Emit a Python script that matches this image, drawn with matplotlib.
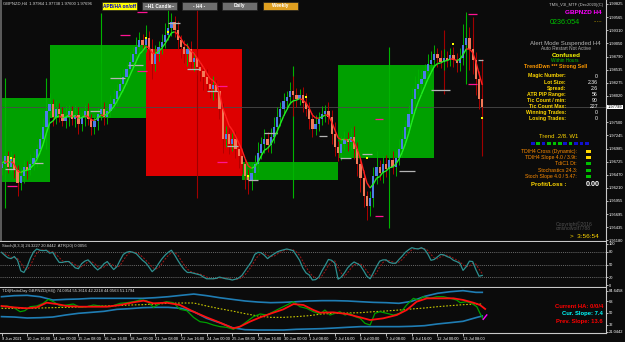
import numpy as np
import pandas as pd
import matplotlib
matplotlib.use("Agg")
import matplotlib.pyplot as plt
import matplotlib.transforms as mtransforms
from matplotlib.patches import Rectangle
from matplotlib.collections import LineCollection

plt.rcParams['font.family'] = ['Liberation Sans', 'DejaVu Sans']

# ---------------- data (GBPNZD H4) ----------------
closes = [
    1.9669, 1.9683, 1.9663, 1.9679, 1.9656, 1.9630, 1.9644, 1.9663, 1.9656, 1.9669,
    1.9679, 1.9698, 1.9718, 1.9741, 1.9772, 1.9786, 1.9761, 1.9776, 1.9766, 1.9753,
    1.9761, 1.9772, 1.9757, 1.9765, 1.9747, 1.9761, 1.9772, 1.9757, 1.9741, 1.9753,
    1.9766, 1.9776, 1.9761, 1.9772, 1.9786, 1.9796, 1.9811, 1.9825, 1.9838, 1.9854,
    1.9869, 1.9883, 1.9897, 1.9912, 1.9902, 1.9916, 1.9893, 1.9864, 1.9883, 1.9897,
    1.9908, 1.9922, 1.9935, 1.9947, 1.9932, 1.9912, 1.9897, 1.9883, 1.9893, 1.9869,
    1.9877, 1.9858, 1.9850, 1.9838, 1.9825, 1.9815, 1.9823, 1.9811, 1.9776, 1.9718,
    1.9727, 1.9708, 1.9718, 1.9698, 1.9683, 1.9669, 1.9644, 1.9636, 1.9650, 1.9669,
    1.9689, 1.9708, 1.9718, 1.9706, 1.9722, 1.9741, 1.9761, 1.9776, 1.9792, 1.9799,
    1.9811, 1.9803, 1.9796, 1.9803, 1.9788, 1.9776, 1.9757, 1.9737, 1.9747, 1.9757,
    1.9766, 1.9772, 1.9761, 1.9727, 1.9702, 1.9689, 1.9708, 1.9718, 1.9712, 1.9722,
    1.9698, 1.9669, 1.9640, 1.9605, 1.9586, 1.9601, 1.9644, 1.9663, 1.9650, 1.9669,
    1.9659, 1.9675, 1.9663, 1.9679, 1.9698, 1.9718, 1.9741, 1.9766, 1.9796, 1.9815,
    1.9825, 1.9834, 1.9850, 1.9864, 1.9873, 1.9883, 1.9877, 1.9869, 1.9877, 1.9873,
    1.9881, 1.9873, 1.9866, 1.9877, 1.9902, 1.9916, 1.9893, 1.9873, 1.9834, 1.9796,
    1.97799,
]
first_open = 1.9660
# wick lengths in pips above / below the body
wick_up = [
    12, 60, 10, 14, 8, 10, 16, 12, 10, 18,
    14, 10, 12, 18, 60, 22, 10, 16, 12, 14,
    20, 12, 10, 18, 14, 10, 12, 16, 10, 14,
    12, 90, 14, 10, 18, 20, 14, 22, 16, 12,
    18, 14, 20, 16, 12, 24, 14, 20, 18, 12,
    16, 22, 40, 18, 12, 16, 10, 14, 12, 16,
    10, 14, 12, 10, 16, 12, 18, 10, 14, 12,
    16, 12, 10, 14, 12, 16, 10, 14, 20, 16,
    22, 14, 18, 12, 16, 20, 18, 14, 16, 12,
    18, 30, 14, 12, 16, 20, 14, 12, 18, 14,
    16, 12, 18, 14, 24, 12, 16, 14, 12, 16,
    20, 14, 12, 16, 10, 14, 18, 30, 12, 14,
    16, 12, 18, 14, 20, 16, 14, 18, 22, 26,
    30, 18, 14, 20, 16, 18, 12, 14, 16, 12,
    14, 16, 12, 18, 40, 50, 20, 30, 14, 16,
    10,
]
wick_dn = [
    14, 50, 12, 10, 16, 24, 12, 14, 18, 10,
    12, 16, 10, 14, 20, 12, 18, 14, 16, 10,
    14, 18, 12, 16, 20, 14, 18, 12, 16, 14,
    18, 12, 16, 14, 12, 10, 14, 12, 16, 14,
    12, 16, 14, 18, 12, 14, 20, 30, 14, 12,
    14, 12, 10, 16, 14, 18, 20, 16, 22, 14,
    18, 16, 20, 24, 16, 18, 22, 14, 20, 28,
    16, 20, 14, 18, 22, 20, 24, 26, 18, 14,
    16, 12, 18, 14, 16, 12, 14, 18, 12, 16,
    14, 40, 16, 12, 18, 14, 20, 16, 12, 14,
    12, 16, 14, 20, 18, 16, 14, 12, 18, 16,
    20, 24, 26, 22, 28, 20, 18, 16, 14, 20,
    16, 40, 14, 18, 12, 16, 14, 12, 16, 14,
    12, 18, 14, 16, 12, 14, 18, 12, 16, 14,
    12, 14, 18, 16, 14, 30, 40, 24, 30, 20,
    14,
]
current_price = 1.97799

# weekly boxes
box_from = [-0.2, 15, 45, 75, 105]
box_to = [15, 45, 75, 105, 135]
box_high = [1.97974, 1.99024, 1.98946, 1.96711, 1.98616]
box_low = [1.96322, 1.97586, 1.96439, 1.96361, 1.96808]
box_bull = [True, True, False, True, True]

# long higher-timeframe wicks
spike_bar = [1, 14, 31, 61, 91, 121, 138, 145, 147, 150]
spike_high = [1.98363, 1.98363, 1.99646, 1.99841, 1.98597, 1.98985, 1.99316, 1.99607, 1.99569, 1.98733]
spike_low = [1.95817, 1.96983, 1.97858, 1.96019, 1.96019, 1.95428, 1.98052, 1.98247, 1.98441, 1.96847]
spike_bull = [True, True, True, False, True, True, False, True, False, False]

# short level markers
level_from = [1.7, 37, 42.3, 42.3, 67.2, 67.2, 116.5, 116.5, 145.6, 145.6,
              1, 10, 27.6, 34, 39.5, 52, 57.8, 64, 70.4, 76.9, 82, 99, 105.6, 112.5, 124, 134, 148.7]
level_to = [4.8, 40, 45.4, 45.4, 70.4, 70.4, 119, 119, 148.4, 148.4,
            4.2, 13, 30.8, 38.5, 44, 55.7, 62, 67.5, 73.8, 80, 86, 101.5, 109, 115.6, 129, 140, 150.2]
level_price = [1.96244, 1.99219, 1.99666, 1.98499, 1.98208, 1.96711, 1.97566, 1.95661, 1.99627, 1.98247,
               1.96575, 1.96691, 1.97722, 1.98363, 1.98616, 1.99452, 1.98538, 1.98111, 1.97041, 1.96361,
               1.97294, 1.97236, 1.96789, 1.96886, 1.96536, 1.98130, 1.98713]
level_magenta = [True] * 10 + [False] * 17

dot_bar = [3, 45, 52, 77, 95, 114, 141, 150]
dot_price = [1.96789, 1.99160, 1.99277, 1.96439, 1.97994, 1.96807, 1.99044, 1.97586]

price_ticks = [1.99825, 1.99565, 1.99310, 1.99050, 1.98790, 1.98535, 1.98275, 1.98020,
               1.97500, 1.97245, 1.96985, 1.96725, 1.96470, 1.96210, 1.95955, 1.95695,
               1.95435, 1.95180]

# stochastic main line
stoch = [
    79, 72, 66, 64, 69, 60, 35, 31, 45, 65,
    80, 87, 84, 83, 84, 77, 79, 66, 55, 55,
    57, 57, 50, 42, 40, 52, 58, 61, 53, 44,
    37, 43, 52, 57, 47, 38, 45, 60, 74, 79,
    81, 79, 76, 68, 60, 54, 44, 33, 40, 52,
    63, 72, 79, 84, 73, 60, 48, 38, 31, 31,
    29, 27, 25, 20, 16, 16, 16, 17, 20, 18,
    16, 15, 13, 15, 18, 24, 35, 46, 57, 74,
    79, 78, 72, 64, 70, 75, 80, 83, 85, 87,
    85, 83, 72, 60, 42, 30, 25, 13, 14, 20,
    35, 48, 62, 60, 53, 15, 20, 30, 42, 50,
    56, 52, 47, 35, 22, 16, 30, 45, 58, 61,
    61, 55, 53, 53, 62, 70, 79, 85, 90, 88,
    87, 90, 86, 75, 60, 62, 68, 74, 73, 69,
    66, 60, 57, 53, 36, 45, 58, 57, 38, 22,
    24,
]

# TDI panel
tdi_bar = list(range(0, 97, 4)) + list(range(100, 149, 4)) + [150]
tdi_upper = [75.1, 76.7, 77.2, 75.1, 70, 71, 71.5, 72.6, 72.6, 72.6, 72.6, 72.6, 73.6,
             75.1, 77.2, 79.2, 76.7, 73.6, 71, 68.5, 66.9, 65.9, 66.4, 67.4, 68.5,
             69, 69, 68.5, 67.4, 66.4, 65.9, 64.9, 68, 75.6, 80.3, 82.8, 84.4, 81.8, 81.8]
tdi_lower = [44.4, 43.8, 42.3, 42.8, 43.8, 46.9, 49.5, 51, 52.6, 55.6, 56.7, 58.2, 58.7,
             58.7, 57.2, 52, 41.8, 35.1, 27.4, 24.3, 23.8, 23.8, 23.8, 24.9, 25.4,
             25.9, 26.9, 28, 29, 29, 29, 29, 29.5, 30.5, 33.1, 35.1, 37.2, 42.8, 45.4]
tdi_mid = [57.2, 57.2, 57.2, 57.7, 58.2, 58.7, 59.2, 60.3, 60.8, 61.3, 62.3, 62.8, 63.8,
           64.9, 65.4, 65.4, 60.8, 56.7, 53.1, 49, 45.4, 43.3, 43.3, 44.4, 45.9,
           48.5, 49.5, 50, 50.5, 52, 53.1, 54.6, 56.2, 57.7, 59.7, 61.3, 62.8, 63.8, 63.8]
rsi_bar = [0, 1.6, 3.7, 5.8, 7.3, 8.9, 11.0, 13.0, 14.6, 16.2, 18.3, 20.3, 22.4, 24.5, 26.6,
           28.7, 30.7, 33.9, 37.0, 39.1, 41.1, 43.2, 45.3, 47.4, 49.5, 51.5, 53.6, 55.7, 57.8,
           59.9, 61.9, 64.0, 66.1, 68.2, 70.3, 72.3, 74.4, 76.5, 78.6, 80.7, 82.7, 84.8, 86.9,
           89.0, 91.1, 93.1, 95.2, 97.3, 99.4, 100.9, 102.5, 104.1, 105.6, 107.2, 108.7, 110.3,
           111.9, 113.4, 115.0, 116.5, 118.1, 120.2, 122.3, 124.3, 126.4, 128.5, 130.1, 131.6,
           133.7, 135.8, 137.9, 140.0, 142.0, 143.1, 145.1, 146.7, 148.3, 149.3, 150.3]
rsi_val = [59.7, 60.8, 58.7, 52.0, 53.6, 59.7, 60.8, 64.9, 71.0, 67.4, 60.8, 62.3, 63.8, 58.7,
           59.7, 62.3, 60.8, 59.7, 64.9, 65.9, 67.4, 70.0, 69.0, 58.7, 64.9, 67.4, 65.9, 55.6,
           53.6, 43.3, 36.7, 35.1, 31.5, 29.0, 27.9, 24.9, 29.0, 36.7, 44.4, 48.5, 46.9, 52.0,
           57.2, 62.3, 67.4, 59.7, 57.2, 52.0, 48.5, 54.6, 46.9, 49.5, 52.0, 46.9, 49.5, 44.4,
           41.8, 34.1, 31.5, 49.5, 52.0, 49.5, 46.9, 49.5, 62.3, 72.6, 70.0, 75.1, 72.6, 75.1,
           75.1, 72.6, 70.0, 65.9, 67.4, 64.9, 59.7, 49.5, 40.3]
sig_bar = [0, 3.7, 7.9, 11.0, 14.1, 17.2, 20.3, 24.5, 28.7, 32.8, 37.0, 41.1, 44.3, 47.4, 51.5,
           55.7, 59.9, 64.0, 68.2, 72.3, 74.4, 77.5, 80.7, 84.8, 87.9, 91.1, 94.2, 97.3, 99.4,
           103.5, 107.7, 111.9, 115.0, 119.1, 123.3, 126.4, 129.5, 132.7, 136.8, 141.0, 144.1,
           147.2, 149.3, 150.9]
sig_val = [60.8, 58.7, 57.2, 58.7, 65.9, 63.8, 60.8, 59.7, 59.7, 59.7, 62.3, 66.4, 69.0, 64.9,
           65.9, 62.3, 52.0, 43.3, 35.1, 26.4, 29.0, 36.7, 43.3, 50.5, 55.6, 63.8, 62.3, 54.6,
           50.5, 51.0, 48.5, 43.3, 39.2, 41.8, 46.9, 54.6, 67.4, 72.6, 72.6, 72.6, 70.0, 65.9,
           62.3, 56.2]

date_labels = ["9 Jun 2021", "10 Jun 16:00", "14 Jun 00:00", "15 Jun 08:00", "16 Jun 16:00",
               "18 Jun 00:00", "21 Jun 08:00", "22 Jun 16:00", "24 Jun 00:00", "25 Jun 08:00",
               "28 Jun 16:00", "30 Jun 00:00", "1 Jul 08:00", "2 Jul 16:00", "6 Jul 00:00",
               "7 Jul 08:00", "8 Jul 16:00", "12 Jul 00:00", "13 Jul 08:00"]

# ---------------- figure ----------------
BG = '#0b0b0b'
W, H = 625, 342
AXFS = 2.9   # axis label size (MT4 uses a tiny font)
fig = plt.figure(figsize=(6.25, 3.42), dpi=100, facecolor=BG)

def px_axes(y0, y1):
    return fig.add_axes([0, 1 - y1 / H, 606 / W, (y1 - y0) / H], facecolor=BG)

ax = px_axes(0, 241)
ax2 = px_axes(242, 287)
ax3 = px_axes(288, 333)
xlim = (-0.47, 188.6)
for a in (ax, ax2, ax3):
    a.set_xlim(*xlim)
    for s in ('top', 'left'):
        a.spines[s].set_visible(False)
    for s in ('right', 'bottom'):
        a.spines[s].set_color('#c8c8c8')
        a.spines[s].set_linewidth(0.8)
    a.yaxis.tick_right()
    a.tick_params(axis='y', colors='white', labelsize=AXFS, length=1.2, width=0.5, pad=0.6)
    a.tick_params(axis='x', colors='white', labelsize=AXFS, length=2, width=0.5, pad=0.8)
ax.set_xticks([])
ax2.set_xticks([])

# --- main price panel ---
ax.set_ylim(1.9517, 1.99899)
bars = np.arange(len(closes))
opens = [first_open] + closes[:-1]

for x0, x1, hi, lo, bull in zip(box_from, box_to, box_high, box_low, box_bull):
    ax.add_patch(Rectangle((x0, lo), x1 - x0, hi - lo,
                           color='#00A000' if bull else '#DD0000', lw=0, zorder=1))

ax.axhline(current_price, color='#4a4a4a', lw=0.6, zorder=2)

for b, hi, lo, bull in zip(spike_bar, spike_high, spike_low, spike_bull):
    ax.vlines(b, lo, hi, color='#00B400' if bull else '#A00000', lw=0.8, zorder=3)

for i, (o, c) in enumerate(zip(opens, closes)):
    up = c >= o
    hi = max(o, c) + wick_up[i] * 1e-4
    lo = min(o, c) - wick_dn[i] * 1e-4
    ax.vlines(i, lo, hi, color='#00B000' if up else '#B00000', lw=0.7, zorder=3)
    body = c - o if abs(c - o) > 0.00012 else 0.00012
    ax.bar(i, body, bottom=o, width=0.7,
           color='#4C7DE8' if up else '#F27A58', lw=0, zorder=4)

for x0, x1, p, mag in zip(level_from, level_to, level_price, level_magenta):
    ax.hlines(p, x0, x1, color='#FF1493' if mag else '#B4B4B4', lw=0.9, zorder=5)

ax.scatter(dot_bar, dot_price, s=3, marker='s', color='#FFFF00', lw=0, zorder=6)

ma = pd.Series(closes).ewm(span=5, adjust=False).mean().values
pts = np.column_stack([bars, ma])
segs = np.stack([pts[:-1], pts[1:]], axis=1)
seg_cols = ['#22EE22' if d >= 0 else '#FF2020' for d in np.diff(ma)]
ax.add_collection(LineCollection(segs, colors=seg_cols, lw=1.0, zorder=7))

ax.set_yticks(price_ticks)
ax.set_yticklabels([f'{p:.5f}' for p in price_ticks])
tr = mtransforms.blended_transform_factory(ax.transAxes, ax.transData)
ax.text(1.003, current_price, f'{current_price:.5f}', transform=tr, fontsize=AXFS,
        color='black', va='center', ha='left',
        bbox=dict(fc='white', ec='none', pad=0.3), zorder=10, clip_on=False)

# --- stochastic panel ---
ax2.set_ylim(-3.6, 103.6)
for lv in (80, 50, 20):
    ax2.axhline(lv, color='#8a8a8a', lw=0.5, ls=(0, (1.5, 1.5)))
signal = pd.Series(stoch).rolling(3, min_periods=1).mean()
ax2.plot(bars, signal, color='#A01818', lw=0.7, ls=(0, (2, 1.5)))
ax2.plot(bars, stoch, color='#2E9090', lw=0.9)
ax2.set_yticks([100, 80, 50, 20, 0])
ax2.set_yticklabels(['100', '80', '50', '20', '0'])
ax2.text(0.003, 0.95, 'Stoch(8,3,3) 24.3227 20.8442  ATR(20) 0.0056', transform=ax2.transAxes,
         fontsize=3.0, color='#d8d8d8', va='top', ha='left')

# --- TDI panel ---
ax3.set_ylim(19.2, 88.5)
ax3.plot(tdi_bar, tdi_upper, color='#1F7DB4', lw=1.2)
ax3.plot(tdi_bar, tdi_lower, color='#1F7DB4', lw=1.2)
ax3.plot(tdi_bar, tdi_mid, color='#C8C800', lw=0.8, ls=(0, (1.5, 1.5)))
ax3.plot(rsi_bar, rsi_val, color='#00A000', lw=0.9)
ax3.plot(sig_bar, sig_val, color='#FF1010', lw=1.3)
ax3.plot([150.3, 151.4], [40.3, 47.0], color='#FF00FF', lw=1.0)
tdi_ticks = [84.6458, 68, 50, 32, 21.0442]
ax3.set_yticks(tdi_ticks)
ax3.set_yticklabels(['84.6458', '68', '50', '32', '21.0442'])
ax3.text(0.003, 0.97, 'TDI(RatioDay GBPNZD(H4)) 74.0954 55.3616 42.2218 44.0563 51.1794',
         transform=ax3.transAxes, fontsize=3.0, color='#d8d8d8', va='top', ha='left')
ax3.set_xticks(range(0, 8 * len(date_labels), 8))
ax3.set_xticklabels(date_labels, ha='left')

# --- overlay in pixel coordinates for the terminal widgets ---
ov = fig.add_axes([0, 0, 1, 1], facecolor='none')
ov.set_xlim(0, W)
ov.set_ylim(H, 0)
ov.axis('off')

def txt(x, y, s, color, size=4, ha='left', bold=False):
    ov.text(x, y, s, color=color, fontsize=size, ha=ha, va='center',
            fontweight='bold' if bold else 'normal')

ov.add_patch(Rectangle((0, 0), 2, 241, color='#5a5a5a', lw=0))
txt(3, 4, 'GBPNZD,H4  1.97964 1.97738 1.97600 1.97696', '#d8d8d8', 3.0)

buttons = [('APB/HA on/off', 102, '#FFFF00', '#0000CC'),
           ('~H1 Candle~', 142, '#6e6e6e', 'white'),
           ('- H4 -', 182, '#6e6e6e', 'white'),
           ('Daily', 222, '#6e6e6e', 'white'),
           ('Weekly', 263, '#E0A020', 'white')]
for label, bx, fc, tc in buttons:
    ov.add_patch(Rectangle((bx, 2), 35, 8, fc=fc, ec='#202020', lw=0.5))
    txt(bx + 17.5, 6, label, tc, 3.4, ha='center', bold=True)

txt(603, 5, 'TMS_V3I_MTF (Dec2020)(C)', '#c8c8c8', 3.0, ha='right')
txt(602, 12, 'GBPNZD H4', '#FF00FF', 4.6, ha='right', bold=True)
txt(550, 23, '0236:054', '#00C000', 5.2)
txt(593, 20, '.....', '#FFD700', 4.5)
txt(565, 43, 'Alert Mode Suspended H4', '#b4b4b4', 4.3, ha='center')
txt(566, 49, 'Auto Restart Not Active', '#b4b4b4', 3.4, ha='center')
txt(566, 55.5, 'Confused', '#FFFF00', 4.5, ha='center', bold=True)
txt(565, 61, 'Within Hours', '#00C000', 3.4, ha='center')
txt(556, 66.5, 'TrendDwn *** Strong Sell', '#FF9900', 3.8, ha='center', bold=True)

rows = [('Magic Number:', '0'), ('Lot Size:', '2.36'), ('Spread:', '2.6'),
        ('ATR PIP Range:', '56'), ('Tic Count / min:', '90'), ('Tic Count Max:', '227'),
        ('Winning Trades:', '0'), ('Losing Trades:', '0')]
for k, (lab, val) in enumerate(rows):
    y = 76 + k * 6.1
    txt(566, y, lab, '#FFD700', 3.7, ha='right', bold=True)
    txt(598, y, val, 'white', 3.7, ha='right')

txt(559, 136, 'Trend .2/8. W1', '#FFD700', 4.3, ha='center')
sq_cols = ['#1010D0', '#00C000', '#1010D0', '#00C000', '#00C000', '#00C000',
           '#1010D0', '#00C000', '#1010D0', '#1010D0', '#1010D0']
for k, c in enumerate(sq_cols):
    ov.add_patch(Rectangle((531 + k * 5.4, 141.5), 3.6, 3, color=c, lw=0))

ind_rows = [('TDIH4 Cross (Dynamic):', '#FFD700'), ('TDIH4 Slope 4.0 / 3.9t:', '#FFD700'),
            ('TdiC1 Dt:', '#00C000'), ('Stochastics 24.3:', '#00C000'),
            ('Stoch Slope 4.0 / 5.47:', '#00C000')]
for k, (lab, c) in enumerate(ind_rows):
    y = 151 + k * 6.4
    txt(577, y, lab, '#FF8C00', 3.7, ha='right')
    ov.add_patch(Rectangle((586, y - 1.5), 5, 3, color=c, lw=0))

txt(566, 185, 'Profit/Loss :', '#FFD700', 4.3, ha='right', bold=True)
txt(600, 185, '0.00', 'white', 5.2, ha='right', bold=True)
txt(556, 224, 'Copyright©2016', '#505050', 3.6)
txt(556, 229, 'cmsnowolf7788', '#505050', 3.6)
txt(570, 237, '>  3:56:54', '#FFD700', 4.6)

txt(603, 306, 'Current HA: 0/0/4', '#FF0000', 4.2, ha='right', bold=True)
txt(603, 313.5, 'Cur. Slope: 7.4', '#00FFFF', 4.2, ha='right', bold=True)
txt(603, 321, 'Prev. Slope: 13.6', '#FF0000', 4.2, ha='right', bold=True)

fig.savefig('out.png', dpi=100, facecolor=BG)
